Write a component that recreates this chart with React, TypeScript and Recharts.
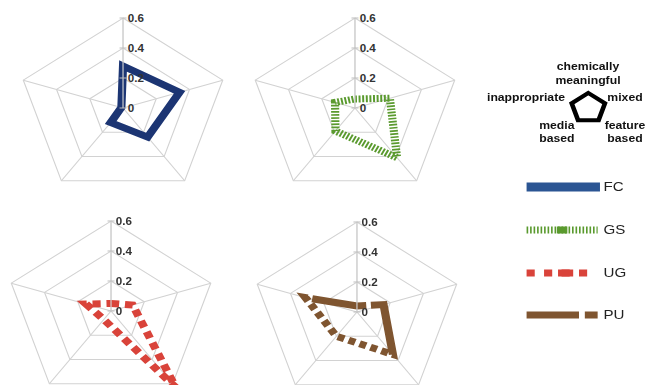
import React from 'react';
import { PolarAngleAxis, PolarGrid, PolarRadiusAxis, Radar, RadarChart } from 'recharts';

const axes = ['chemically meaningful', 'mixed', 'feature based', 'media based', 'inappropriate'];
const fc = [0.28, 0.34, 0.24, 0.12, 0.01];
const gs = [0.06, 0.21, 0.41, 0.19, 0.12];
const ug = [0.05, 0.13, 0.63, 0.07, 0.15];
const pu = [0.04, 0.16, 0.35, 0.2, 0.31];
const radiusTicks = [0, 0.2, 0.4, 0.6];
const keyShape = [1, 1, 1, 1, 1];
const seriesNames = ['FC', 'GS', 'UG', 'PU'];

// the reference is stretched horizontally, so everything is drawn narrow and scaled
const STRETCH = 1.165;
const FONT = '"Liberation Sans", Arial, sans-serif';

const rows = (vals: number[]) => axes.map((a, i) => ({ axis: a, v: vals[i] }));

const RadiusTick = (props: any) => {
    const { x, y, payload } = props;
    return (
        <g>
            <line x1={x - 3} x2={x + 3} y1={y} y2={y} stroke='#bdbdbd' />
            <text x={x + 4} y={y + 3.8} fontSize={10} fontWeight='bold' fill='#333' fontFamily={FONT}>
                {String(Number(Number(payload.value).toFixed(1)))}
            </text>
        </g>
    );
};

type PanelProps = {
    values: number[];
    color: string;
    dash?: string;
    width: number;
    left: number;
    top: number;
    cx: number;
    cy: number;
};

const Panel = ({ values, color, dash, width, left, top, cx, cy }: PanelProps) => (
    <div style={{ position: 'absolute', left, top }}>
        <RadarChart width={210} height={200} data={rows(values)} cx={cx} cy={cy} outerRadius={90} margin={{ top: 0, right: 0, bottom: 0, left: 0 }}>
            <PolarGrid gridType='polygon' polarRadius={[30, 60, 90]} stroke='#d2d2d2' />
            <PolarAngleAxis dataKey='axis' tick={false} axisLine={false} />
            <PolarRadiusAxis
                angle={90}
                type='number'
                domain={[0, 0.6]}
                ticks={radiusTicks as any}
                allowDecimals
                allowDataOverflow
                tickCount={4}
                axisLine={{ stroke: '#d2d2d2' }}
                tick={RadiusTick}
            />
            <Radar
                dataKey='v'
                stroke={color}
                strokeWidth={width}
                strokeDasharray={dash}
                strokeLinejoin='miter'
                fill='none'
                fillOpacity={0}
                dot={false}
                isAnimationActive={false}
            />
        </RadarChart>
    </div>
);

const keyLabel = (text: string, x: number, y: number) => (
    <text x={x} y={y} textAnchor='middle' fontSize={10.5} fontWeight='bold' fill='#111' fontFamily={FONT}>
        {text}
    </text>
);

// long dash, short piece, long dash, a run of dots, long dash (as in the source)
const puDash = '8 4 62 4 6 4 6 4 6 4 6 4 6 4 6 4 6 4 6 4 6 4 6 4 40 100';

const App = () => {
    return (
        <div
            style={{
                position: 'absolute',
                left: 0,
                top: 0,
                width: 556,
                height: 385,
                transform: `scaleX(${STRETCH})`,
                transformOrigin: '0 0',
                fontFamily: FONT,
                background: '#fff',
            }}
        >
            <Panel values={fc} color='#1c3573' width={7} left={0} top={0} cx={105.6} cy={108} />
            <Panel values={gs} color='#5a9a2e' width={7} dash='1.7 1.4' left={200} top={0} cx={104.7} cy={108} />
            <Panel values={ug} color='#d9433a' width={7} dash='7 5' left={0} top={200} cx={95.3} cy={111} />
            <Panel values={pu} color='#7f5530' width={7} dash={puDash} left={200} top={200} cx={106.4} cy={112} />

            {/* axis key */}
            <div style={{ position: 'absolute', left: 474.7, top: 77.5 }}>
                <RadarChart width={60} height={60} data={rows(keyShape)} cx={30} cy={30} outerRadius={15} margin={{ top: 0, right: 0, bottom: 0, left: 0 }}>
                    <PolarAngleAxis dataKey='axis' tick={false} axisLine={false} />
                    <PolarRadiusAxis domain={[0, 1]} tick={false} axisLine={false} />
                    <Radar dataKey='v' stroke='#000' strokeWidth={4} fill='none' dot={false} isAnimationActive={false} />
                </RadarChart>
            </div>

            <svg width={556} height={385} style={{ position: 'absolute', left: 0, top: 0, pointerEvents: 'none' }}>
                {keyLabel('chemically', 504.7, 70)}
                {keyLabel('meaningful', 504.7, 84)}
                {keyLabel('inappropriate', 451.5, 101)}
                {keyLabel('mixed', 536.5, 101)}
                {keyLabel('media', 478, 129)}
                {keyLabel('based', 478, 142)}
                {keyLabel('feature', 536.5, 129)}
                {keyLabel('based', 536.5, 142)}

                {/* series legend */}
                <line x1={452} x2={515} y1={187} y2={187} stroke='#2b5593' strokeWidth={9} />
                <line x1={452} x2={513} y1={230} y2={230} stroke='#5a9a2e' strokeWidth={7} strokeDasharray='1.4 1.6' />
                <rect x={478} y={226.5} width={9} height={7} fill='#5a9a2e' />
                <line x1={452} x2={508} y1={273} y2={273} stroke='#d9433a' strokeWidth={7} strokeDasharray='7 8' />
                <rect x={479} y={269.5} width={13} height={7} fill='#d9433a' />
                <line x1={452} x2={513} y1={315} y2={315} stroke='#7f5530' strokeWidth={7} strokeDasharray='45 5 11 5' />
                {seriesNames.map((n, i) => (
                    <text key={n} x={518} y={[187, 230, 273, 315][i] + 4.5} fontSize={13} fill='#222' fontFamily={FONT}>
                        {n}
                    </text>
                ))}
            </svg>
        </div>
    );
};

export default App;
